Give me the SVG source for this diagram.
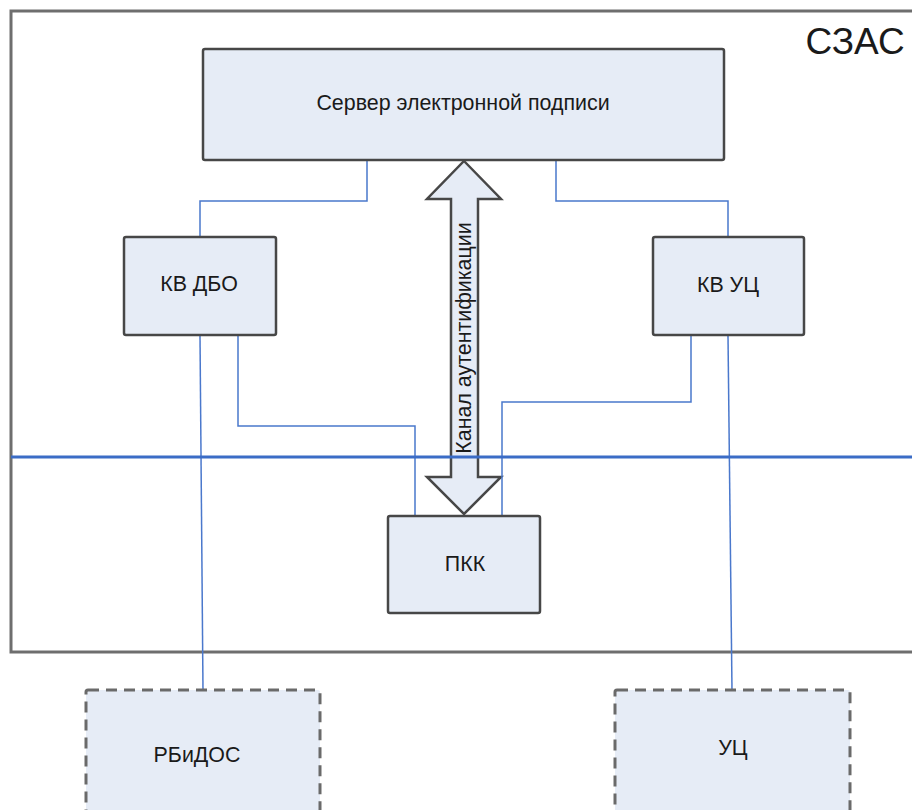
<svg xmlns="http://www.w3.org/2000/svg" width="912" height="810" viewBox="0 0 912 810">
  <style>
    .frame { fill: none; stroke: #6e6e6e; stroke-width: 3; }
    .box { fill: #e6ecf6; stroke: #474747; stroke-width: 2.5; }
    .ext { fill: #e6ecf6; stroke: #6a6a6a; stroke-width: 3; stroke-dasharray: 11 7; }
    .link { fill: none; stroke: #4a78cc; stroke-width: 1.5; }
    .bus { fill: none; stroke: #3b6cc6; stroke-width: 3; }
    .lbl { font-family: "Liberation Sans", Arial, sans-serif; font-size: 21.4px; fill: #1a1a1a; text-anchor: middle; dominant-baseline: central; }
  </style>

  <rect width="912" height="810" fill="#ffffff"/>

  <!-- system boundary -->
  <g id="szas">
    <rect class="frame" x="11" y="11" width="930" height="641"/>
    <text x="855" y="41" font-family="Liberation Sans, Arial, sans-serif" font-size="37" fill="#1a1a1a" text-anchor="middle" dominant-baseline="central">СЗАС</text>
  </g>

  <!-- authentication channel (double-headed block arrow) -->
  <g id="auth-channel">
    <polygon class="box" stroke-width="2" points="464,161 501,199 478,199 478,477 501,477 464,514 427,477 451,477 451,199 427,199"/>
  </g>

  <!-- connectors -->
  <g id="connectors">
    <path class="link" d="M367,160 V201 H200 V237"/>
    <path class="link" d="M556,160 V201 H728 V237"/>
    <path class="link" d="M238,336 V426 H415 V516"/>
    <path class="link" d="M691,336 V402 H502 V516"/>
    <path class="link" d="M200,336 L203,690"/>
    <path class="link" d="M728,336 L732,690"/>
    <path class="bus" d="M11,457 H912"/>
  </g>

  <text class="lbl" transform="translate(464,338) rotate(-90)" x="0" y="0">Канал аутентификации</text>

  <g id="server">
    <rect class="box" x="203" y="49" width="521" height="111" rx="2"/>
    <text class="lbl" x="463" y="103">Сервер электронной подписи</text>
  </g>

  <g id="kv-dbo">
    <rect class="box" x="124" y="237" width="152" height="98" rx="2"/>
    <text class="lbl" x="199" y="284">КВ ДБО</text>
  </g>

  <g id="kv-uc">
    <rect class="box" x="653" y="237" width="151" height="98" rx="2"/>
    <text class="lbl" x="728" y="285">КВ УЦ</text>
  </g>

  <g id="pkk">
    <rect class="box" x="388" y="516" width="152" height="97" rx="2"/>
    <text class="lbl" x="465" y="564">ПКК</text>
  </g>

  <g id="rbidos">
    <rect class="ext" x="86" y="690" width="234" height="140" rx="2"/>
    <text class="lbl" x="197" y="755">РБиДОС</text>
  </g>

  <g id="uc">
    <rect class="ext" x="615" y="690" width="235" height="140" rx="2"/>
    <text class="lbl" x="733" y="748">УЦ</text>
  </g>
</svg>
